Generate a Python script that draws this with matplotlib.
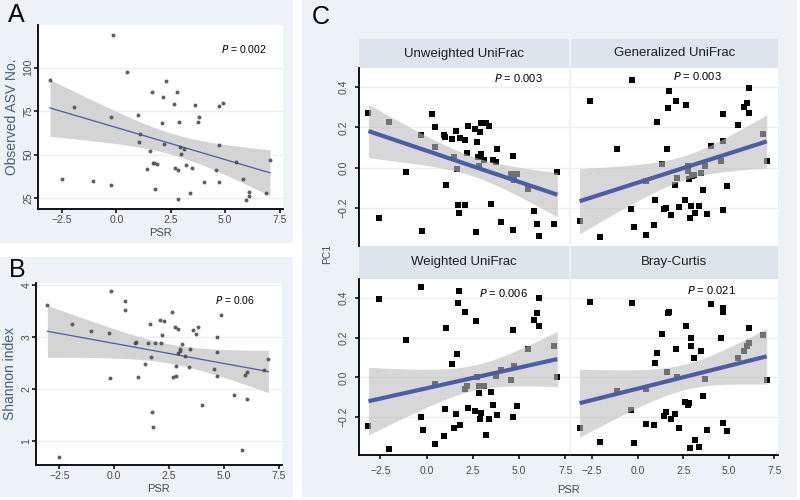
import numpy as np
import matplotlib
matplotlib.use("Agg")
import matplotlib.pyplot as plt
import matplotlib.patches as patches

plt.rcParams['font.family'] = ['Liberation Sans', 'DejaVu Sans']

# ---- data ----
psr_a = [-3.06, -0.18, -1.94, -2.5, -1.06, -0.23, -0.24, 0.5, 0.97, 1.02, 1.09, 1.41, 1.53, 1.65, 1.67,
         1.73, 1.85, 1.76, 2.09, 2.12, 2.17, 2.30, 2.64, 2.77, 2.71, 2.83, 2.82, 2.88, 2.94, 2.98, 3.12,
         3.21, 3.39, 3.48, 3.61, 3.73, 3.80, 4.02, 4.70, 4.58, 4.73, 4.92, 4.70, 5.48, 5.82, 5.97, 6.09,
         6.09, 6.86, 7.06]
asv_a = [92.8, 119, 77.6, 36, 34.9, 32.4, 71.5, 97.5, 73, 57.5, 62, 41.5, 51.8, 86.1, 45, 45, 44.6, 30,
         67.9, 82.9, 55.8, 92.4, 79.3, 86.1, 42.3, 41.1, 24.2, 68.5, 54.2, 50.6, 53.1, 44, 28, 42.3, 78.7,
         68.7, 71.5, 34.1, 55.6, 41.3, 77.8, 79.7, 34.1, 45.9, 36.2, 24.1, 28.4, 26.3, 27.7, 47]

psr_b = [-3.04, -2.5, -1.94, -1.06, -0.23, -0.20, -0.16, 0.50, 0.50, 0.97, 1.0, 1.09, 1.39, 1.53, 1.63,
         1.66, 1.71, 1.77, 1.85, 2.10, 2.12, 2.16, 2.29, 2.62, 2.68, 2.79, 2.80, 2.82, 2.89, 2.92, 2.98,
         2.99, 3.10, 3.21, 3.39, 3.47, 3.60, 3.72, 3.81, 4.01, 4.55, 4.69, 4.70, 4.71, 4.89, 5.48, 5.81,
         5.95, 6.06, 6.07, 6.84, 7.03]
shannon_b = [3.61, 0.69, 3.25, 3.12, 3.08, 2.20, 3.88, 3.70, 3.52, 2.88, 2.90, 2.23, 2.48, 2.88, 3.24,
             2.62, 1.56, 1.26, 2.88, 3.33, 2.88, 3.03, 3.31, 3.49, 2.23, 3.20, 2.25, 2.43, 3.15, 2.69,
             2.76, 2.73, 2.87, 2.64, 2.42, 2.76, 3.13, 3.05, 3.19, 1.69, 2.39, 2.99, 2.24, 2.71, 3.43,
             1.88, 0.81, 2.26, 2.32, 1.81, 2.37, 2.58]

psr_unw = [-3.15, -2.57, -2.03, -1.12, -0.29, -0.25, 0.31, 0.45, 0.47, 0.94, 0.98, 1.05, 1.36, 1.49,
           1.61, 1.63, 1.68, 1.74, 1.83, 2.07, 2.10, 2.16, 2.26, 2.59, 2.75, 2.79, 2.83, 2.86, 2.93, 2.93,
           2.68, 3.10, 3.19, 3.39, 3.46, 3.59, 3.73, 3.79, 4.0, 4.57, 4.69, 4.71, 4.69, 4.91, 5.49, 5.83,
           5.98, 6.09, 6.88, 7.07]
pc1_unw = [0.272, -0.25, 0.228, -0.02, 0.16, -0.317, 0.267, 0.103, 0.203, 0.16, 0.153, -0.087, 0.143,
           0.053, 0.18, -0.008, -0.187, -0.228, 0.147, 0.137, -0.185, 0.072, 0.208, 0.192, 0.128, 0.053,
           0.01, 0.175, 0.223, 0.067, -0.322, 0.037, 0.223, 0.208, -0.183, 0.04, 0.03, 0.093, -0.273,
           -0.03, 0.057, -0.062, -0.312, -0.03, -0.105, -0.217, -0.283, -0.342, -0.28, -0.023]

psr_gen = [-3.19, -2.61, -2.05, -1.15, -0.32, -0.34, -0.23, 0.46, 0.45, 0.92, 0.95, 1.05, 1.35, 1.45,
           1.55, 1.61, 1.66, 1.74, 1.81, 2.05, 2.08, 2.14, 2.25, 2.61, 2.66, 2.75, 2.77, 2.81, 2.86, 2.90,
           2.97, 3.08, 3.17, 3.37, 3.46, 3.59, 3.72, 3.79, 4.01, 4.70, 4.70, 4.70, 4.57, 4.90, 5.50, 5.83,
           5.99, 6.1, 6.1, 6.9, 7.08]
pc1_gen = [-0.267, 0.333, -0.345, 0.092, 0.433, -0.207, -0.295, -0.067, -0.333, -0.288, -0.16, 0.228,
           0.017, -0.207, -0.203, 0.092, 0.295, 0.382, -0.235, -0.088, 0.33, -0.053, -0.197, -0.163, 0.31,
           -0.017, 0.008, -0.058, -0.253, -0.19, -0.042, -0.038, -0.227, -0.192, -0.025, -0.112, 0.01,
           -0.23, 0.107, 0.267, 0.13, -0.212, 0.035, -0.092, 0.21, 0.30, 0.323, 0.398, 0.27, 0.167, 0.032]

psr_wtd = [-3.15, -2.59, -2.03, -1.12, -0.29, -0.29, -0.2, 0.45, 0.47, 0.94, 0.98, 1.05, 1.36, 1.49,
           1.61, 1.63, 1.67, 1.74, 1.83, 2.07, 2.10, 2.16, 2.26, 2.59, 2.68, 2.75, 2.81, 2.83, 2.86, 2.93,
           2.97, 3.10, 3.19, 3.39, 3.46, 3.59, 3.73, 3.79, 4.0, 4.57, 4.69, 4.71, 4.69, 4.91, 5.49, 5.83,
           5.98, 6.09, 6.09, 6.88, 7.07]
pc1_wtd = [-0.245, 0.392, -0.358, 0.186, 0.456, -0.2, -0.263, -0.035, -0.335, -0.296, -0.157, 0.251,
           0.07, -0.253, -0.184, 0.117, 0.372, 0.436, -0.24, 0.327, -0.06, -0.042, -0.154, -0.171, 0.285,
           0.002, -0.042, -0.077, -0.211, -0.179, -0.044, -0.042, -0.288, -0.211, -0.074, -0.137, 0.007,
           -0.191, 0.037, -0.012, 0.241, 0.06, -0.198, -0.146, 0.141, 0.29, 0.325, 0.399, 0.261, 0.157, 0.0]

psr_bray = [-3.19, -2.61, -2.05, -1.15, -0.32, -0.34, -0.23, 0.46, 0.45, 0.92, 0.95, 1.05, 1.35, 1.45,
            1.55, 1.61, 1.66, 1.74, 1.81, 2.05, 2.08, 2.14, 2.25, 2.61, 2.66, 2.75, 2.79, 2.86, 2.90, 2.95,
            3.08, 3.17, 3.37, 3.46, 3.59, 3.72, 3.79, 4.01, 4.70, 4.70, 4.55, 4.70, 4.90, 5.50, 5.83, 5.99,
            6.1, 6.1, 6.9, 7.08]
pc1_bray = [-0.253, 0.379, -0.325, -0.069, 0.375, -0.162, -0.332, -0.057, -0.235, -0.24, 0.075, 0.121,
            0.216, -0.193, -0.174, 0.028, 0.325, 0.33, -0.208, -0.186, 0.142, 0.003, -0.253, -0.124, 0.26,
            -0.137, -0.131, -0.357, 0.199, 0.156, 0.1, -0.313, -0.348, 0.131, -0.095, -0.008, -0.265, 0.37,
            0.328, 0.35, 0.196, -0.231, -0.268, 0.099, 0.131, 0.159, 0.25, 0.174, 0.211, -0.012]

facet_titles = ["Unweighted UniFrac", "Generalized UniFrac", "Weighted UniFrac", "Bray-Curtis"]
p_values = ["0.002", "0.06", "0.003", "0.003", "0.006", "0.021"]

# ---- style ----
c_bg = '#edf2f7'
c_strip = '#dce5ee'
c_grid = '#eaeff4'
c_tick = '#4a4a4a'
c_ylab = '#3e5c86'
c_line = '#4a5da9'
W, H = 800, 500

fig = plt.figure(figsize=(8, 5), dpi=100)
fig.patch.set_facecolor('white')


def px_axes(x0, y0, x1, y1):
    # pixel box (top-left origin) -> figure axes
    return fig.add_axes([x0 / W, 1 - y1 / H, (x1 - x0) / W, (y1 - y0) / H])


def px_rect(x0, y0, x1, y1, color):
    fig.patches.append(patches.Rectangle((x0 / W, 1 - y1 / H), (x1 - x0) / W, (y1 - y0) / H,
                                         transform=fig.transFigure, facecolor=color,
                                         edgecolor='none', zorder=-1))


def lm_fit(x, y, t=2.01):
    x = np.asarray(x, float)
    y = np.asarray(y, float)
    b, a = np.polyfit(x, y, 1)
    xs = np.linspace(x.min(), x.max(), 80)
    resid = y - (a + b * x)
    s = np.sqrt(np.sum(resid ** 2) / (len(x) - 2))
    se = s * np.sqrt(1 / len(x) + (xs - x.mean()) ** 2 / np.sum((x - x.mean()) ** 2))
    fit = a + b * xs
    return xs, fit, fit - t * se, fit + t * se


def style_axes(ax, yticks, ylabels, xlim, ylim, show_x=True, show_y=True, xpad=1.5, ypad=0.5):
    ax.set_xlim(*xlim)
    ax.set_ylim(*ylim)
    ax.set_facecolor('white')
    for sp in ['top', 'right']:
        ax.spines[sp].set_visible(False)
    ax.spines['left'].set_visible(show_y)
    ax.spines['bottom'].set_visible(show_x)
    for sp in ['left', 'bottom']:
        ax.spines[sp].set_linewidth(1.3)
    ax.set_xticks([-2.5, 0.0, 2.5, 5.0, 7.5])
    ax.set_xticklabels(['\u22122.5', '0.0', '2.5', '5.0', '7.5'])
    ax.set_yticks(yticks)
    ax.set_yticklabels(ylabels)
    for yv in yticks:
        ax.axhline(yv, color=c_grid, lw=0.9, zorder=0)
    ax.tick_params(axis='both', direction='out', length=2.8, width=1.1, labelsize=7.5,
                   labelcolor=c_tick, bottom=show_x, labelbottom=show_x,
                   left=show_y, labelleft=show_y)
    ax.tick_params(axis='x', pad=xpad)
    ax.tick_params(axis='y', pad=ypad)
    for lab in ax.get_yticklabels():
        lab.set_rotation(90)
        lab.set_va('center')


# ---- background boxes ----
px_rect(0, 0, 293, 243, c_bg)
px_rect(0, 257, 293, 497, c_bg)
px_rect(302, 0, 797, 497, c_bg)

# ---- panel A ----
axA = px_axes(38, 25, 283, 209)
style_axes(axA, [25, 50, 75, 100], ['25', '50', '75', '100'], (-3.61, 7.66), (18.7, 124.5))
xs, fit, lo, hi = lm_fit(psr_a, asv_a)
axA.fill_between(xs, lo, hi, color='#d4d4d4', lw=0, zorder=1)
axA.plot(xs, fit, color=c_line, lw=0.9, zorder=2)
axA.scatter(psr_a, asv_a, s=8, color='#4d4d4d', alpha=0.9, lw=0, zorder=3)
axA.set_xlabel('PSR', fontsize=8, color=c_tick, labelpad=2)
axA.set_ylabel('Observed ASV No.', fontsize=10, color=c_ylab, labelpad=3)
axA.text(0.84, 0.87, r'$P$ = ' + p_values[0], transform=axA.transAxes, fontsize=7.5,
         ha='center', va='center')
fig.text(8 / W, 1 - 15 / H, 'A', fontsize=18, va='center', ha='left')

# ---- panel B ----
axB = px_axes(36, 283, 282, 465)
style_axes(axB, [1, 2, 3, 4], ['1', '2', '3', '4'], (-3.56, 7.65), (0.53, 4.04))
xs, fit, lo, hi = lm_fit(psr_b, shannon_b)
axB.fill_between(xs, lo, hi, color='#d4d4d4', lw=0, zorder=1)
axB.plot(xs, fit, color=c_line, lw=0.9, zorder=2)
axB.scatter(psr_b, shannon_b, s=8, color='#4d4d4d', alpha=0.9, lw=0, zorder=3)
axB.set_xlabel('PSR', fontsize=8, color=c_tick, labelpad=2)
axB.set_ylabel('Shannon index', fontsize=10, color=c_ylab, labelpad=3)
axB.text(0.81, 0.907, r'$P$ = ' + p_values[1], transform=axB.transAxes, fontsize=7.5,
         ha='center', va='center')
fig.text(9 / W, 1 - 270 / H, 'B', fontsize=18, va='center', ha='left')

# ---- panel C ----
fig.text(312 / W, 1 - 17 / H, 'C', fontsize=18, va='center', ha='left')
c_boxes = [(359, 68, 569, 246), (571, 68, 778, 246), (359, 279, 569, 455), (571, 279, 778, 455)]
strips = [(39, 68), (39, 68), (246, 279), (246, 279)]
c_data = [(psr_unw, pc1_unw), (psr_gen, pc1_gen), (psr_wtd, pc1_wtd), (psr_bray, pc1_bray)]
p_pos = [(0.757, 0.945), (0.61, 0.955), (0.69, 0.922), (0.68, 0.937)]
for i, (box, strip, (xv, yv)) in enumerate(zip(c_boxes, strips, c_data)):
    x0, y0, x1, y1 = box
    px_rect(x0, strip[0], x1, strip[1], c_strip)
    fig.text((x0 + x1) / 2 / W, 1 - (strip[0] + strip[1]) / 2 / H, facet_titles[i],
             fontsize=9.5, ha='center', va='center', color='#1e1e1e')
    ax = px_axes(x0, y0, x1, y1)
    style_axes(ax, [-0.2, 0.0, 0.2, 0.4], ['\u22120.2', '0.0', '0.2', '0.4'],
               (-3.66, 7.7), (-0.39, 0.495), show_x=(i >= 2), show_y=(i % 2 == 0),
               xpad=5, ypad=4.5)
    ax.scatter(xv, yv, marker='s', s=13, color='black', lw=0, zorder=2)
    xs, fit, lo, hi = lm_fit(xv, yv)
    ax.fill_between(xs, lo, hi, color='#bdbdbd', alpha=0.6, lw=0, zorder=3)
    ax.plot(xs, fit, color=c_line, lw=3, zorder=4, solid_capstyle='butt')
    ax.text(p_pos[i][0], p_pos[i][1], r'$P$ = ' + p_values[i + 2], transform=ax.transAxes,
            fontsize=8, ha='center', va='center')

fig.text(568 / W, 1 - 490 / H, 'PSR', fontsize=8, ha='center', va='center', color=c_tick)
fig.text(327 / W, 1 - 254 / H, 'PC1', fontsize=7.5, ha='center', va='center', color=c_tick,
         rotation=90)

fig.savefig('out.png', dpi=100)
